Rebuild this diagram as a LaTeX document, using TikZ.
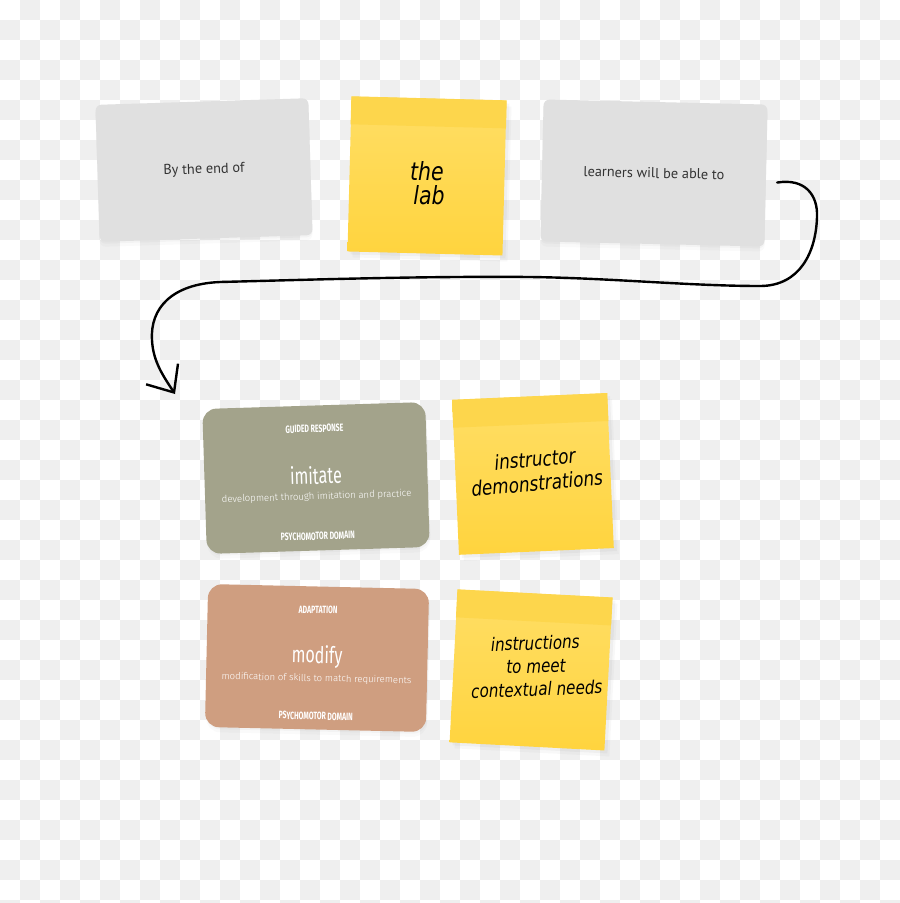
\documentclass[tikz,border=0pt]{standalone}
\usepackage{fontspec}
\usepackage{tikz}
\usetikzlibrary{positioning,calc,arrows.meta,shadows}
\setmainfont{PT Sans}
\newfontfamily\handfont{DejaVu Sans}[FakeStretch=0.82]
\newfontfamily\tagfont{Fira Sans}[FakeStretch=0.65]
\newfontfamily\titlefont{Fira Sans}[FakeStretch=0.7]
\newfontfamily\glossfont{Fira Sans Light}
\definecolor{checker}{HTML}{EFEFEF}
\definecolor{cardgrey}{HTML}{E0E0E0}
\definecolor{inkgrey}{HTML}{333333}
\definecolor{stickytop}{HTML}{FFDE66}
\definecolor{stickybot}{HTML}{FFD43E}
\definecolor{stickyband}{HTML}{FDD64C}
\definecolor{olive}{HTML}{A3A38B}
\definecolor{salmon}{HTML}{CF9E80}

\begin{document}
\begin{tikzpicture}[
    x=1pt, y=-1pt,
    soft/.style={drop shadow={shadow xshift=#1, shadow yshift=-2pt, opacity=0.05},
        drop shadow={shadow xshift=#1, shadow yshift=-5pt, opacity=0.04}},
    card/.style={fill=cardgrey, rounded corners=6pt, text=inkgrey, soft=0pt,
        font=\fontsize{14.3}{16}\selectfont},
    skillcard/.style={rounded corners=14pt, minimum width=223pt, minimum height=145pt, soft=1pt},
    sticky/.style={top color=stickytop, bottom color=stickybot, minimum width=155pt, minimum height=155pt,
        drop shadow={shadow xshift=3pt, shadow yshift=-3pt, opacity=0.07},
        drop shadow={shadow xshift=5pt, shadow yshift=-6pt, opacity=0.05}},
    band/.style={fill=stickyband},
    hand/.style={align=center, font=\handfont\itshape\fontsize{18.5}{23}\selectfont},
    tag/.style={text=white, font=\tagfont\bfseries\fontsize{10.6}{11}\selectfont},
    title/.style={text=white, font=\titlefont\fontsize{23}{25}\selectfont},
    gloss/.style={text=white, font=\glossfont\fontsize{9.6}{11}\selectfont},
    link/.style={line width=2.4pt, line cap=round, -{Straight Barb[length=22pt, width=38pt]}}
]
\useasboundingbox (0,0) rectangle (900,903);
% checker background
\fill[white] (0,0) rectangle (900,903);
\foreach \i in {0,...,44}
    \foreach \j in {0,...,45} {
        \pgfmathtruncatemacro\odd{mod(\i+\j,2)}
        \ifnum\odd=1 \fill[checker] (20*\i,20*\j) rectangle ++(20,20); \fi
    }

% top row
\node[card, minimum width=213pt, minimum height=137pt, rotate=1.8] (byend) at (204,170) {By the end of};
\node[sticky, rotate=-1.5] (lab) at (427,176) {};
\node[card, minimum width=224pt, minimum height=142pt, rotate=-1.3] (learn) at (654,173) {learners will be able to};

% bottom rows
\node[skillcard, fill=olive, rotate=1.8] (imitate) at (316,478) {};
\node[sticky, rotate=2.5] (demo) at (533,474) {};
\node[skillcard, fill=salmon, minimum width=221pt, minimum height=143pt, rotate=-1.3] (modify) at (317,658) {};
\node[sticky, minimum height=153pt, rotate=-3] (needs) at (531,670) {};

\foreach \n in {lab,demo,needs}
    \fill[band] (\n.north west) -- (\n.north east) -- ($(\n.north east)!28pt!(\n.south east)$)
        -- ($(\n.north west)!28pt!(\n.south west)$) -- cycle;

% sticky notes text
\node[hand, font=\handfont\itshape\fontsize{25}{24}\selectfont] (labtext) at (427,183) {the\\ \hspace*{4pt}lab};
\node[hand, rotate=5, font=\handfont\itshape\fontsize{20.5}{24}\selectfont] (demotext) at (536,471) {instructor\\ demonstrations};
\node[hand, rotate=2] (needstext) at (536,666) {instructions\\ to meet\\ contextual needs};

% skill cards text
\node[tag, rotate=1.8] (imitatetag) at ($(imitate.center)!0.68!(imitate.north)$) {GUIDED RESPONSE};
\node[title, rotate=1.8] (imitatetitle) at ($(imitate.center)!0.04!(imitate.north)$) {imitate};
\node[gloss, rotate=1.8] (imitategloss) at ($(imitate.center)!0.26!(imitate.south)$) {development through imitation and practice};
\node[tag, rotate=1.8] (imitatedom) at ($(imitate.center)!0.8!(imitate.south)$) {PSYCHOMOTOR DOMAIN};
\node[tag, rotate=-1.3] (modifytag) at ($(modify.center)!0.67!(modify.north)$) {ADAPTATION};
\node[title, rotate=-1.3] (modifytitle) at ($(modify.center)!0.02!(modify.north)$) {modify};
\node[gloss, rotate=-1.3] (modifygloss) at ($(modify.center)!0.29!(modify.south)$) {modification of skills to match requirements};
\node[tag, rotate=-1.3] (modifydom) at ($(modify.center)!0.81!(modify.south)$) {PSYCHOMOTOR DOMAIN};

% connector
\coordinate (tip) at (175,394);
\draw[link] ([shift={(11,7)}]learn.east) .. controls (805,178) and (818,195) .. (817,217)
    .. controls (816,252) and (800,286) .. (760,286)
    .. controls (690,286) and (610,278) .. (530,277)
    .. controls (420,276) and (300,280) .. (220,282)
    .. controls (172,284) and (150,308) .. (152,340)
    .. controls (153,362) and (164,377) .. (tip);
\end{tikzpicture}
\end{document}
